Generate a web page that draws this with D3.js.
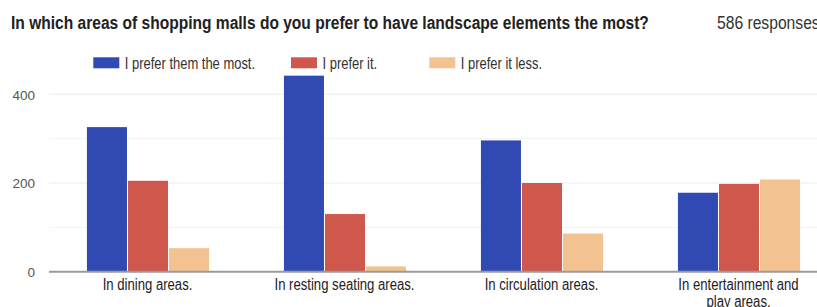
<!DOCTYPE html>
<html>
<head>
<meta charset="utf-8">
<script src="https://cdn.jsdelivr.net/npm/d3@7"></script>
<style>
  html, body { margin: 0; padding: 0; background: #fff; }
  svg { display: block; font-family: "Liberation Sans", Arial, sans-serif; }
</style>
</head>
<body>
<script>
// ---- data ----
const title = "In which areas of shopping malls do you prefer to have landscape elements the most?";
const responsesLabel = "586 responses";
const categories = ["In dining areas.", "In resting seating areas.", "In circulation areas.", "In entertainment and play areas."];
const seriesNames = ["I prefer them the most.", "I prefer it.", "I prefer it less."];
const mostValues = [326, 442, 296, 178];
const preferValues = [205, 130, 200, 198];
const lessValues = [53, 12, 86, 208];
const yTicks = [0, 200, 400];
const gridTicks = [100, 200, 300, 400];

// ---- layout / style ----
const W = 817, H = 307;
const colors = ["#3049b3", "#cf574b", "#f2c290"];

const svg = d3.select("body").append("svg").attr("width", W).attr("height", H);

function txt(g, x, y, s, size, sx, anchor, fill, weight) {
  return g.append("text")
    .attr("transform", `translate(${x},${y}) scale(${sx},1)`)
    .attr("text-anchor", anchor || "start")
    .attr("font-size", size)
    .attr("font-weight", weight || "normal")
    .attr("fill", fill || "#222")
    .text(s);
}

// title: compress horizontally to the measured width
const tt = txt(svg, 11, 28.5, title, 19, 1, "start", "#212121", "bold");
const tw = tt.node().getComputedTextLength();
tt.attr("transform", `translate(11,28.5) scale(${638 / tw},1)`);
txt(svg, 717, 28.5, responsesLabel, 18, 0.87, "start", "#333");

// scales
const x0 = d3.scaleBand().domain(categories).range([49.5, 837.5]).paddingInner(0.38).paddingOuter(0.19);
const x1 = d3.scaleBand().domain(seriesNames).range([0, x0.bandwidth()]).paddingInner(0.025);
const y = d3.scaleLinear().domain([0, 400]).range([271.7, 94.3]);

// gridlines
svg.append("g").selectAll("line").data(gridTicks).join("line")
  .attr("x1", 49).attr("x2", W)
  .attr("y1", d => y(d)).attr("y2", d => y(d))
  .attr("stroke", d => d % 200 === 0 ? "#ececec" : "#f4f4f4").attr("stroke-width", 1);

// y axis labels
const yAxis = d3.axisLeft(y).tickValues(yTicks).tickSize(0).tickPadding(0);
const yg = svg.append("g").attr("transform", "translate(35,0)").call(yAxis);
yg.select(".domain").remove();
yg.selectAll("text").attr("font-size", 13.5).attr("fill", "#555")
  .attr("font-family", "'Liberation Sans', Arial, sans-serif").attr("dy", "0.36em");

// bars
const seriesValues = [mostValues, preferValues, lessValues];
const rows = categories.map((c, i) => ({ cat: c, vals: seriesNames.map((s, j) => ({ s, j, v: seriesValues[j][i] })) }));
const groups = svg.append("g").selectAll("g").data(rows).join("g")
  .attr("transform", d => `translate(${x0(d.cat)},0)`);
groups.selectAll("rect").data(d => d.vals).join("rect")
  .attr("x", d => x1(d.s))
  .attr("width", x1.bandwidth())
  .attr("y", d => y(d.v))
  .attr("height", d => y(0) - y(d.v))
  .attr("fill", d => colors[d.j]);

// baseline
svg.append("line").attr("x1", 49).attr("x2", W).attr("y1", y(0)).attr("y2", y(0))
  .attr("stroke", "#9a9a9a").attr("stroke-width", 2);

// x labels with wrapping
const labelSize = 16, labelSX = 0.82, maxW = 144;
const xl = svg.append("g");
categories.forEach(c => {
  const cx = x0(c) + x0.bandwidth() / 2;
  const words = c.split(" ");
  const lines = [];
  let cur = [];
  words.forEach(w => {
    const test = cur.concat([w]).join(" ");
    const t = xl.append("text").attr("font-size", labelSize).text(test);
    const wdt = t.node().getComputedTextLength() * labelSX;
    t.remove();
    if (wdt > maxW && cur.length) { lines.push(cur.join(" ")); cur = [w]; }
    else cur.push(w);
  });
  lines.push(cur.join(" "));
  lines.forEach((ln, k) => txt(xl, cx - 0.5, 289.5 + k * 17, ln, labelSize, labelSX, "middle", "#222"));
});

// legend
const legendX = [93.3, 291, 429.3];
const lg = svg.append("g");
seriesNames.forEach((s, i) => {
  lg.append("rect").attr("x", legendX[i]).attr("y", 57.3).attr("width", 26).attr("height", 11).attr("fill", colors[i]);
  txt(lg, legendX[i] + 31.5, 69, s, 16, 0.81, "start", "#333");
});
</script>
</body>
</html>
